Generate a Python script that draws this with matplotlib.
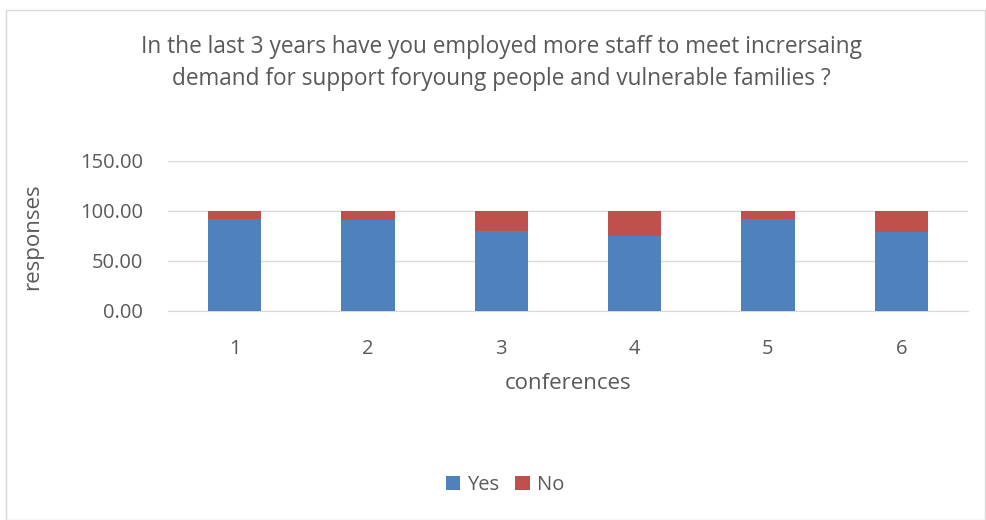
import numpy as np
import matplotlib
matplotlib.use('Agg')
import matplotlib.pyplot as plt
from matplotlib.patches import Rectangle

# survey answers per conference (percent)
conferences = ['1', '2', '3', '4', '5', '6']
yes = [92.3, 90.7, 79.7, 75.0, 91.7, 79.5]
no = [100 - v for v in yes]

blue = '#4F81BD'
red = '#C0504D'
txt = '#595959'

plt.rcParams['font.family'] = ['Open Sans', 'DejaVu Sans']

fig = plt.figure(figsize=(9.86, 5.2), dpi=100)
fig.patches.append(Rectangle((6/986, 0), 1 - 6/986 - 1/986, 1 - 10/520, transform=fig.transFigure,
                             fill=False, edgecolor='#D9D9D9', linewidth=1))
ax = fig.add_axes([168/986, 1 - 311/520, 800/986, 150/520])

x = np.arange(len(conferences))
ax.bar(x, yes, width=0.4, color=blue, label='Yes', zorder=3)
ax.bar(x, no, width=0.4, bottom=yes, color=red, label='No', zorder=3)

ax.set_xlim(-0.5, len(conferences) - 0.5)
ax.set_ylim(0, 150)
ax.set_yticks([0, 50, 100, 150])
ax.set_yticklabels(['0.00', '50.00', '100.00', '150.00'])
ax.set_xticks(x)
ax.set_xticklabels(conferences)
ax.grid(axis='y', color='#D9D9D9', linewidth=1, zorder=0)
for s in ['top', 'right', 'left']:
    ax.spines[s].set_visible(False)
ax.spines['bottom'].set_color('#D9D9D9')
ax.tick_params(length=0, colors=txt, labelsize=14.5)
ax.tick_params(axis='x', pad=20)
ax.tick_params(axis='y', pad=18)

ax.set_xlabel('conferences', fontsize=16, color=txt, labelpad=10)
fig.text(33/986, 1 - 237/520, 'responses', rotation=90, fontsize=16, color=txt,
         ha='center', va='center')

fig.text(501/986, 1 - 63/520,
         'In the last 3 years have you employed more staff to meet incrersaing\n'
         'demand for support foryoung people and vulnerable families ?',
         ha='center', va='center', fontsize=16.3, color=txt, linespacing=1.4)

fig.legend(loc='center', bbox_to_anchor=(505/986, 1 - 485/520), ncol=2, frameon=False,
           fontsize=14.5, labelcolor=txt, handlelength=0.7, handleheight=0.7,
           handletextpad=0.35, columnspacing=0.8)

fig.savefig('out.png', dpi=100)
